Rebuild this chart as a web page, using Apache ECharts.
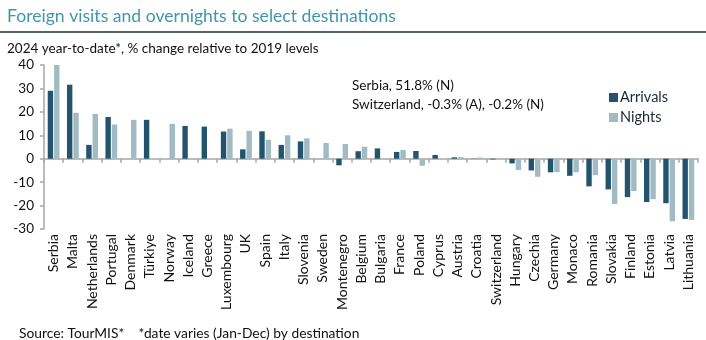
<!DOCTYPE html>
<html>
<head>
<meta charset="utf-8">
<script src="https://cdn.jsdelivr.net/npm/echarts@6/dist/echarts.min.js"></script>
<style>
  html, body { margin: 0; padding: 0; background: #fff; }
  #chart { width: 706px; height: 340px; }
</style>
</head>
<body>
<div id="chart"></div>
<script>
// Destinations, ordered as drawn
const destinations = [
  'Serbia', 'Malta', 'Netherlands', 'Portugal', 'Denmark', 'Türkiye', 'Norway',
  'Iceland', 'Greece', 'Luxembourg', 'UK', 'Spain', 'Italy', 'Slovenia', 'Sweden',
  'Montenegro', 'Belgium', 'Bulgaria', 'France', 'Poland', 'Cyprus', 'Austria',
  'Croatia', 'Switzerland', 'Hungary', 'Czechia', 'Germany', 'Monaco', 'Romania',
  'Slovakia', 'Finland', 'Estonia', 'Latvia', 'Lithuania'
];

// % change vs 2019, arrivals (null = not reported)
const arrivals = [
  29.0, 31.6, 5.9, 17.8, null, 16.6, null,
  14.0, 13.7, 11.6, 4.0, 11.7, 5.9, 7.4, null,
  -2.8, 3.2, 4.4, 2.9, 3.3, 1.6, 0.6,
  0.1, -0.3, -2.0, -5.0, -5.8, -7.3, -11.8,
  -13.1, -16.4, -18.5, -19.0, -25.7
];

// % change vs 2019, overnight stays (null = not reported)
const nights = [
  51.8, 19.6, 19.1, 14.6, 16.6, null, 14.9,
  null, null, 12.8, 11.9, 8.1, 10.0, 8.7, 6.7,
  6.3, 5.1, null, 3.7, -3.0, null, 0.7,
  0.5, -0.2, -4.8, -7.7, -5.7, -5.8, -7.0,
  -19.3, -13.8, -17.3, -26.7, -26.1
];

const yTicks = { min: -30, max: 40, interval: 10 };

const notes = [
  'Serbia, 51.8% (N)',
  'Switzerland, -0.3% (A), -0.2% (N)'
];

const FONT = 'Lato, "Source Sans Pro", sans-serif';
const COL_ARR = '#24546d';
const COL_NIGHT = '#a0bbc3';
const AXIS_GREY = '#a6a6a6';

const chart = echarts.init(document.getElementById('chart'), null, { renderer: 'canvas' });

chart.setOption({
  animation: false,
  backgroundColor: '#ffffff',
  textStyle: { fontFamily: FONT },
  title: [
    {
      text: 'Foreign visits and overnights to select destinations',
      left: 2, top: 2,
      textStyle: { fontFamily: FONT, fontSize: 17.6, fontWeight: 'normal', color: '#3f97ae' }
    },
    {
      text: '2024 year-to-date*, % change relative to 2019 levels',
      left: 2, top: 37,
      textStyle: { fontFamily: FONT, fontSize: 13.5, fontWeight: 'normal', color: '#111111' }
    },
    {
      text: 'Source: TourMIS*    *date varies (Jan-Dec) by destination',
      left: 14, top: 322,
      textStyle: { fontFamily: FONT, fontSize: 13.8, fontWeight: 'normal', color: '#111111' }
    }
  ],
  graphic: [
    {
      type: 'line',
      shape: { x1: 0, y1: 32, x2: 706, y2: 32 },
      style: { stroke: '#1c2f3c', lineWidth: 1.5 }
    },
    {
      type: 'text',
      left: 352, top: 76,
      style: {
        text: notes.join('\n'),
        font: '13.5px ' + FONT,
        fill: '#111111',
        lineHeight: 19
      }
    }
  ],
  legend: {
    orient: 'vertical',
    left: 604, top: 85,
    itemWidth: 9, itemHeight: 9, itemGap: 5,
    icon: 'rect',
    textStyle: { fontFamily: FONT, fontSize: 14.5, color: '#1b2636', padding: [0, 0, 0, -3] },
    data: ['Arrivals', 'Nights']
  },
  grid: { left: 44, right: 8, top: 65, bottom: 111, containLabel: false },
  xAxis: [
    {
      type: 'category',
      data: destinations,
      position: 'bottom',
      axisLine: { show: false, onZero: false },
      axisTick: { show: false },
      axisLabel: {
        rotate: 90, interval: 0, margin: 5,
        fontFamily: FONT, fontSize: 14, color: '#111111'
      }
    },
    {
      type: 'category',
      data: destinations,
      position: 'bottom',
      axisLine: { show: true, onZero: true, lineStyle: { color: AXIS_GREY, width: 1.5 } },
      axisTick: { show: true, length: 4, interval: 0, lineStyle: { color: AXIS_GREY, width: 1.5 } },
      axisLabel: { show: false }
    }
  ],
  yAxis: {
    type: 'value',
    min: yTicks.min, max: yTicks.max, interval: yTicks.interval,
    axisLine: { show: true, lineStyle: { color: AXIS_GREY, width: 1.5 } },
    axisTick: { show: true, length: 4, lineStyle: { color: AXIS_GREY, width: 1.5 } },
    splitLine: { show: false },
    axisLabel: { margin: 10, fontFamily: FONT, fontSize: 13.5, color: '#111111' }
  },
  series: [
    {
      name: 'Arrivals',
      type: 'bar',
      xAxisIndex: 0,
      data: arrivals,
      barWidth: 5.4,
      barGap: '18%',
      clip: true,
      itemStyle: { color: COL_ARR }
    },
    {
      name: 'Nights',
      type: 'bar',
      xAxisIndex: 0,
      data: nights,
      barWidth: 5.4,
      barGap: '18%',
      clip: true,
      itemStyle: { color: COL_NIGHT }
    }
  ]
});
</script>
</body>
</html>
